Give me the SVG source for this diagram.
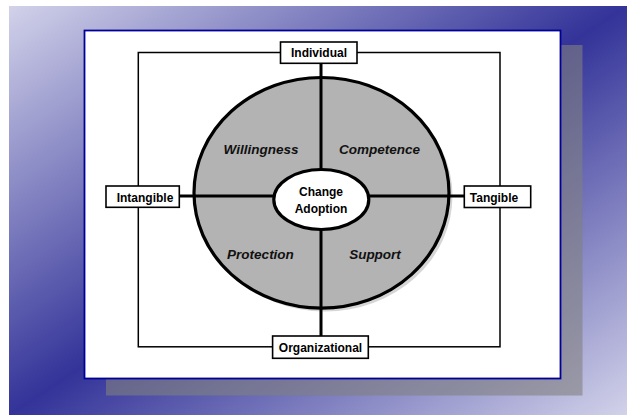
<svg xmlns="http://www.w3.org/2000/svg" width="628" height="415" viewBox="0 0 628 415">
  <defs>
    <linearGradient id="bg" x1="0" y1="0" x2="1" y2="1">
      <stop offset="0" stop-color="#d2d2ea"/>
      <stop offset="0.5" stop-color="#333399"/>
      <stop offset="1" stop-color="#d2d2ea"/>
    </linearGradient>
  </defs>
  <style>
    .lbl { font-family: "Liberation Sans", Arial, sans-serif; font-weight: bold; font-size: 12px; fill: #000; text-anchor: middle; }
    .quad { font-family: "Liberation Sans", Arial, sans-serif; font-weight: bold; font-style: italic; font-size: 13.5px; fill: #111; text-anchor: middle; }
    .box { fill: #fff; stroke: #000; stroke-width: 1.6; }
    .thin { fill: none; stroke: #000; stroke-width: 1.5; }
    .thick { fill: none; stroke: #000; stroke-width: 3; }
  </style>
  <rect x="9" y="6" width="618" height="409" fill="url(#bg)"/>
  <rect x="106" y="45" width="476.5" height="350.5" fill="#808080" fill-opacity="0.6"/>
  <rect x="84.5" y="30.5" width="476" height="348" fill="#fff" stroke="#000099" stroke-width="1.8"/>

  <g id="circle">
    <ellipse cx="325" cy="196" rx="127.5" ry="115.5" fill="#d6d6d6"/>
    <ellipse cx="321.5" cy="192.8" rx="127.5" ry="115.3" fill="#b3b3b3" stroke="#000" stroke-width="3.2"/>
    <text class="quad" x="261" y="153.5">Willingness</text>
    <text class="quad" x="379.5" y="153.5">Competence</text>
    <text class="quad" x="260.5" y="258.5">Protection</text>
    <text class="quad" x="375" y="258.5">Support</text>
  </g>

  <g id="connectors">
    <rect class="thin" x="138.3" y="52.5" width="361.7" height="294.3"/>
    <line class="thick" x1="321" y1="63" x2="321" y2="336"/>
    <line class="thick" x1="179" y1="196" x2="464" y2="196"/>
  </g>

  <g id="center">
    <ellipse cx="321.3" cy="199.5" rx="47.5" ry="30" fill="#fff" stroke="#000" stroke-width="3.2"/>
    <text class="lbl" x="321" y="196">Change</text>
    <text class="lbl" x="321" y="212.8">Adoption</text>
  </g>

  <g id="individual">
    <rect class="box" x="280.5" y="42" width="76.5" height="21.3"/>
    <text class="lbl" x="319" y="57.2">Individual</text>
  </g>
  <g id="intangible">
    <rect class="box" x="106" y="186" width="73.3" height="21.3"/>
    <text class="lbl" x="145" y="201.5">Intangible</text>
  </g>
  <g id="tangible">
    <rect class="box" x="464.3" y="186" width="66.4" height="21.5"/>
    <text class="lbl" x="494" y="201.5">Tangible</text>
  </g>
  <g id="organizational">
    <rect class="box" x="272.6" y="336" width="95.7" height="22.3"/>
    <text class="lbl" x="320.5" y="352">Organizational</text>
  </g>
</svg>
